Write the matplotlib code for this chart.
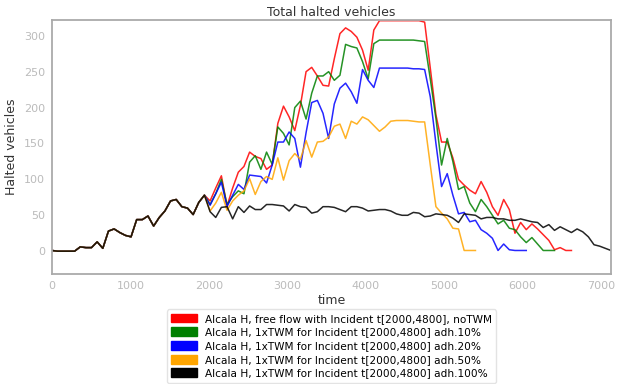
import numpy as np
import matplotlib
matplotlib.use("Agg")
import matplotlib.pyplot as plt
import matplotlib.patches as mpatches

step = 72

# shared part before the incident (idx 0..27)
common = [1, 0, 0, 0, 0, 6, 5, 5, 13, 4, 28, 31, 26, 22, 20, 44, 44, 49, 35, 47,
          56, 70, 72, 62, 60, 51, 68, 78]

red_tail = [70, 88, 105, 63, 88, 110, 118, 138, 132, 129, 114, 120, 178, 202, 187, 168,
            203, 250, 256, 244, 231, 230, 268, 303, 311, 306, 298, 280, 252, 308, 321,
            321, 321, 321, 321, 321, 321, 321, 319, 255, 190, 152, 152, 130, 100, 92, 85,
            80, 97, 82, 62, 50, 72, 58, 25, 40, 30, 38, 31, 23, 15, 2, 5, 1, 1]
green_tail = [65, 80, 100, 65, 76, 84, 80, 124, 133, 114, 138, 121, 173, 164, 148, 200,
              209, 184, 220, 244, 244, 250, 238, 245, 288, 285, 283, 264, 240, 289, 294,
              294, 294, 294, 294, 294, 294, 293, 292, 240, 185, 120, 157, 125, 86, 90, 67,
              55, 72, 62, 50, 38, 43, 32, 30, 20, 12, 19, 10, 1, 1, 1]
blue_tail = [64, 80, 96, 62, 78, 93, 86, 106, 105, 104, 95, 120, 152, 152, 166, 157,
             117, 165, 207, 210, 192, 157, 205, 227, 234, 222, 206, 253, 238, 228, 255,
             255, 255, 255, 255, 255, 254, 254, 253, 215, 150, 90, 108, 78, 52, 54, 41,
             43, 30, 25, 18, 1, 10, 2, 1, 1, 1]
orange_tail = [56, 67, 82, 57, 70, 78, 84, 101, 79, 97, 104, 100, 130, 99, 126, 136,
               128, 154, 131, 152, 153, 159, 174, 177, 157, 181, 177, 187, 183, 175, 167,
               173, 181, 182, 182, 182, 181, 180, 180, 120, 62, 53, 45, 32, 31, 1, 1, 1]
black_tail = [55, 47, 61, 62, 45, 62, 54, 63, 58, 58, 65, 65, 64, 63, 56, 65, 62, 61, 53,
              55, 62, 62, 61, 58, 55, 62, 62, 60, 56, 57, 58, 58, 56, 52, 50, 50, 54, 53,
              48, 49, 52, 51, 50, 46, 40, 52, 51, 50, 45, 47, 47, 45, 45, 43, 43, 45, 43,
              41, 40, 33, 37, 29, 34, 30, 26, 31, 27, 20, 9, 7, 4, 1]

labels = [
    "Alcala H, free flow with Incident t[2000,4800], noTWM",
    "Alcala H, 1xTWM for Incident t[2000,4800] adh.10%",
    "Alcala H, 1xTWM for Incident t[2000,4800] adh.20%",
    "Alcala H, 1xTWM for Incident t[2000,4800] adh.50%",
    "Alcala H, 1xTWM for Incident t[2000,4800] adh.100%",
]
colours = ["red", "green", "blue", "orange", "black"]
tails = [red_tail, green_tail, blue_tail, orange_tail, black_tail]

fig = plt.figure(figsize=(6.19, 3.84), dpi=100)
ax = fig.add_axes([0.084, 0.286, 0.903, 0.662])

for tail, colour in zip(tails, colours):
    vals = np.array(common + tail)
    t = np.arange(len(vals)) * step
    ax.plot(t, vals, color=colour, lw=1.1, alpha=0.85)

ax.set_xlim(0, 7128)
ax.set_ylim(-32, 322)
ax.set_xticks(range(0, 7001, 1000))
ax.set_yticks(range(0, 301, 50))
ax.tick_params(colors="#bbbbbb", labelsize=8, length=0, pad=5)
for sp in ax.spines.values():
    sp.set_color("#aaaaaa")
    sp.set_linewidth(1.3)

ax.set_title("Total halted vehicles", fontsize=9, color="#333333", pad=3)
ax.set_xlabel("time", fontsize=9, color="#333333", labelpad=2)
ax.set_ylabel("Halted vehicles", fontsize=9, color="#333333")

handles = [mpatches.Patch(color=c, label=l) for c, l in zip(colours, labels)]
fig.legend(handles=handles, loc="upper center", bbox_to_anchor=(0.536, 0.208),
           fontsize=7.6, frameon=True, edgecolor="#dddddd", handlelength=2.4,
           handleheight=0.9, labelspacing=0.35, borderpad=0.4)

fig.savefig("out.png", dpi=100)
